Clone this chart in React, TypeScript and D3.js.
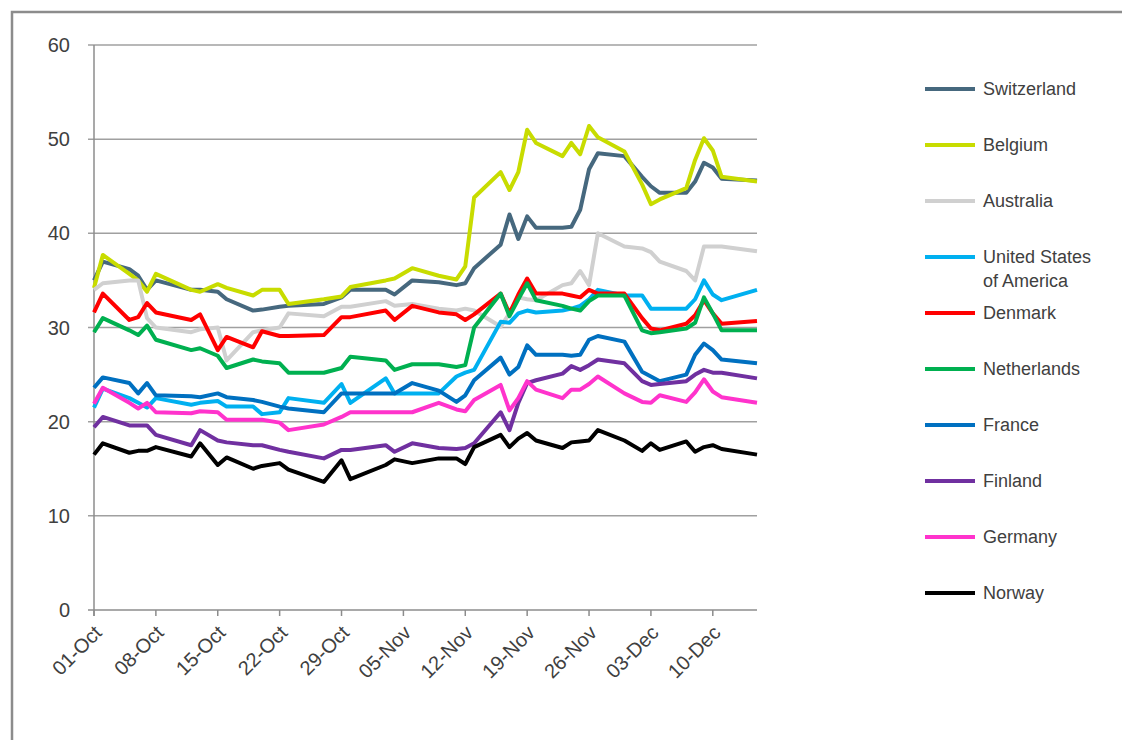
import * as d3 from "d3";

// days after 01-Oct for each observation
const days = [0,1,4,5,6,7,11,12,14,15,18,19,21,22,26,28,29,33,34,36,39,41,42,43,46,47,48,49,50,53,54,55,56,57,60,62,63,64,67,68,69,70,71,75];

const switzerland = [35,37,36.2,35.5,34,35,34,34,33.8,33,31.8,31.9,32.2,32.3,32.5,33.2,34,34,33.5,35,34.8,34.5,34.7,36.3,38.8,42,39.4,41.8,40.6,40.6,40.7,42.5,46.8,48.5,48.2,46,45,44.3,44.3,45.5,47.5,47,45.8,45.6];
const belgium = [34.2,37.7,35.7,35,33.8,35.7,34,33.8,34.6,34.2,33.4,34,34,32.5,33,33.3,34.3,35,35.2,36.3,35.5,35.1,36.5,43.8,46.5,44.6,46.5,51,49.6,48.2,49.6,48.4,51.4,50.2,48.7,45.2,43.1,43.6,44.8,47.8,50.1,48.8,46,45.5];
const australia = [34,34.7,35,35,31,30,29.5,29.8,30,26.5,29.5,29.7,30,31.5,31.2,32.2,32.2,32.8,32.3,32.5,32,31.8,32,31.8,30.1,31.5,33.2,33,32.9,34.5,34.7,36,34.5,40,38.6,38.4,38,37,36,35,38.6,38.6,38.6,38.1];
const usa = [21.5,23.5,22.5,22,21.5,22.5,21.8,22,22.2,21.6,21.6,20.8,21,22.5,22,24,22,24.6,23,23,23,24.8,25.2,25.5,30.6,30.5,31.5,31.8,31.6,31.8,32,32.3,33,34,33.4,33.4,32,32,32,33,35,33.5,32.9,34];
const denmark = [31.6,33.6,30.8,31.1,32.6,31.6,30.8,31.4,27.6,29,27.9,29.6,29.1,29.1,29.2,31.1,31.1,31.8,30.8,32.3,31.6,31.4,30.8,31.4,33.6,31.5,33.5,35.2,33.6,33.6,33.4,33.2,34,33.6,33.6,31,29.9,29.7,30.4,31.3,32.9,31.5,30.4,30.7];
const netherlands = [29.5,31,29.7,29.2,30.2,28.7,27.6,27.8,27,25.7,26.6,26.4,26.2,25.2,25.2,25.7,26.9,26.5,25.5,26.1,26.1,25.8,26,30,33.6,31.2,33,34.7,32.9,32.3,32,31.8,32.8,33.4,33.4,29.7,29.4,29.5,29.9,30.5,33.2,31.5,29.7,29.7];
const france = [23.6,24.7,24.1,23,24.1,22.8,22.7,22.6,23,22.6,22.3,22.1,21.6,21.4,21,23,23,23,23,24.1,23.3,22.1,22.8,24.4,26.8,25,25.8,28.1,27.1,27.1,27,27.1,28.7,29.1,28.5,25.3,24.8,24.3,25,27.1,28.3,27.6,26.6,26.2];
const finland = [19.4,20.5,19.6,19.6,19.6,18.6,17.5,19.1,18,17.8,17.5,17.5,17,16.8,16.1,17,17,17.5,16.8,17.7,17.2,17.1,17.2,17.7,21,19.1,22,24.1,24.4,25.1,25.9,25.5,26,26.6,26.2,24.3,23.9,24,24.3,25,25.5,25.2,25.2,24.6];
const germany = [21.9,23.6,22,21.4,22,21,20.9,21.1,21,20.2,20.2,20.2,19.9,19.1,19.7,20.5,21,21,21,21,22,21.3,21.1,22.3,23.9,21.2,22.5,24.3,23.4,22.5,23.4,23.4,24,24.8,23,22.1,22,22.8,22.1,23.1,24.5,23.2,22.6,22];
const norway = [16.5,17.7,16.7,16.9,16.9,17.3,16.3,17.7,15.4,16.2,15,15.3,15.6,14.9,13.6,15.9,13.9,15.4,16,15.6,16.1,16.1,15.5,17.3,18.6,17.3,18.2,18.8,18,17.2,17.8,17.9,18,19.1,18,16.9,17.7,17,17.9,16.8,17.3,17.5,17.1,16.5];

const series = [
  { name: ["Switzerland"], color: "#46687e", values: switzerland },
  { name: ["Belgium"], color: "#c8dc00", values: belgium },
  { name: ["Australia"], color: "#d0d0d0", values: australia },
  { name: ["United States", "of America"], color: "#00b0f0", values: usa },
  { name: ["Denmark"], color: "#ff0000", values: denmark },
  { name: ["Netherlands"], color: "#00b050", values: netherlands },
  { name: ["France"], color: "#0070c0", values: france },
  { name: ["Finland"], color: "#7030a0", values: finland },
  { name: ["Germany"], color: "#ff33cc", values: germany },
  { name: ["Norway"], color: "#000000", values: norway },
];

const yTicks = [0, 10, 20, 30, 40, 50, 60];

export default function App() {
  const start = new Date(2012, 9, 1);
  const dates = days.map(d => d3.timeDay.offset(start, d));
  const x = d3.scaleTime().domain([start, d3.timeDay.offset(start, 75)]).range([94, 757]);
  const y = d3.scaleLinear().domain([0, 60]).range([610, 45]);
  const xTicks = d3.range(0, 71, 7).map(d => d3.timeDay.offset(start, d));
  const fmt = d3.timeFormat("%d-%b");
  const font = "Arial, 'Liberation Sans', sans-serif";

  return (
    <svg width={1122} height={740} style={{ display: "block", position: "absolute", left: 0, top: 0 }} fontFamily={font}>
      <rect x={0} y={0} width={1122} height={740} fill="white" />
      <path d="M12,740 V12 H1122" fill="none" stroke="#8c8c8c" strokeWidth={2.5} />
      {yTicks.map(t => (
        <g key={t}>
          <line x1={88} x2={757} y1={y(t)} y2={y(t)} stroke={t === 0 ? "#8c8c8c" : "#a0a0a0"} strokeWidth={1.5} />
          <text x={70} y={y(t)} dy="0.35em" textAnchor="end" fontSize={20} fill="#404040">{t}</text>
        </g>
      ))}
      <line x1={94} x2={94} y1={45} y2={616} stroke="#8c8c8c" strokeWidth={1.5} />
      {xTicks.map((t, i) => (
        <g key={i}>
          <line x1={x(t)} x2={x(t)} y1={610} y2={616} stroke="#8c8c8c" strokeWidth={1.5} />
          <text transform={`translate(${x(t) + 9},${634}) rotate(-45)`} textAnchor="end" fontSize={20} fill="#404040">{fmt(t)}</text>
        </g>
      ))}
      {series.map(s => {
        const line = d3.line<number>().x((_, i) => x(dates[i])).y(v => y(v));
        return <path key={s.name[0]} d={line(s.values) ?? ""} fill="none" stroke={s.color} strokeWidth={4} strokeLinejoin="round" />;
      })}
      {series.map((s, i) => {
        const ly = 89 + i * 56;
        return (
          <g key={"l" + i}>
            <line x1={925} x2={975} y1={ly} y2={ly} stroke={s.color} strokeWidth={4} />
            {s.name.map((n, j) => (
              <text key={j} x={983} y={ly + j * 24} dy="0.35em" fontSize={18} fill="#404040">{n}</text>
            ))}
          </g>
        );
      })}
    </svg>
  );
}
